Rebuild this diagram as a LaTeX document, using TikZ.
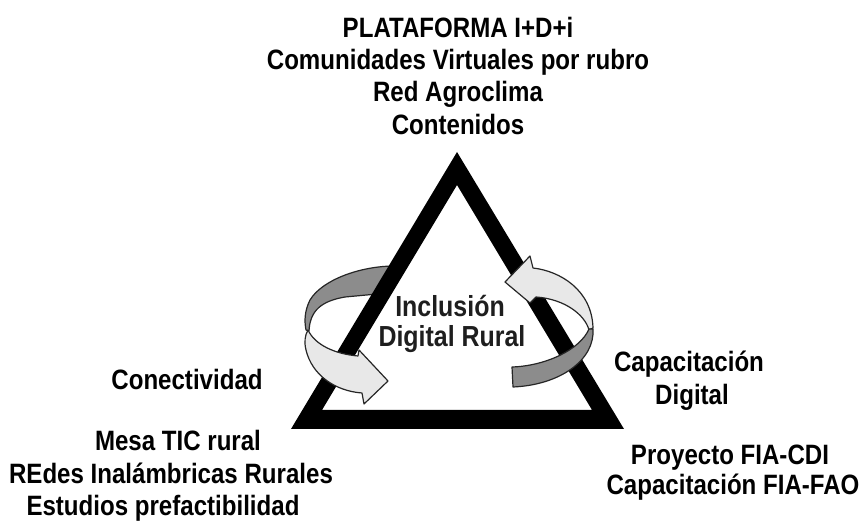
\documentclass[tikz,border=0pt]{standalone}
\usepackage{fontspec}
\setmainfont{Liberation Sans}[FakeStretch=0.86]
\definecolor{bandDark}{HTML}{8C8C8C}
\definecolor{bandLight}{HTML}{E8E8E8}
\definecolor{bandLine}{HTML}{262626}
\definecolor{innerText}{HTML}{1E1E1E}
\tikzset{
  lab/.style={font=\fontsize{28}{30}\selectfont\bfseries, anchor=base, inner sep=0pt, text=black},
  innerlab/.style={font=\fontsize{29}{31}\selectfont\bfseries, anchor=base, inner sep=0pt, text=innerText},
  darkband/.style={fill=bandDark, draw=bandLine, line width=1.2pt, line join=round},
  lightband/.style={fill=bandLight, draw=bandLine, line width=1.2pt, line join=round},
}
\begin{document}
\begin{tikzpicture}[x=1pt,y=-1pt]
\useasboundingbox (0,0) rectangle (863,521);
\fill[white] (0,0) rectangle (863,521);

% left ring, back part (behind the bar)
\path[darkband] (395,266) .. controls (360,266) and (322,280) .. (310,300)
  .. controls (305,310) and (304,320) .. (306,330) -- (309,331)
  .. controls (310,310) and (322,301) .. (345,297) -- (388,293) -- cycle;

% triangle
\fill[black, even odd rule] (457,152) -- (291,429) -- (624,429) -- cycle
  (457,185) -- (322,410) -- (592,410) -- cycle;

% left ring, front part with arrow head
\path[lightband] (308,330) .. controls (315,345) and (335,354) .. (358,356)
  -- (359,350) -- (388,381) -- (364,404) -- (362,393)
  .. controls (335,391) and (312,375) .. (306,350)
  .. controls (304,342) and (305,335) .. (308,330) -- cycle;

% right ring, arrow head part
\path[lightband] (505,282) -- (530,256) -- (533,268)
  .. controls (560,271) and (592,290) .. (593,328) -- (589,330)
  .. controls (585,315) and (565,299) .. (536,297) -- (530,303) -- cycle;

% right ring, dark part
\path[darkband] (593,329) .. controls (595,360) and (560,385) .. (513,387)
  -- (512,367) .. controls (545,366) and (580,350) .. (589,329) -- cycle;

% texts
\node[lab] (t1) at (458,38) {PLATAFORMA I+D+i};
\node[lab] (t2) at (458,70) {Comunidades Virtuales por rubro};
\node[lab] (t3) at (458,102) {Red Agroclima};
\node[lab] (t4) at (458,135) {Contenidos};

\node[innerlab] (inc1) at (450,317) {Inclusión};
\node[innerlab] (inc2) at (452,347) {Digital Rural};

\node[lab] (con) at (187,390) {Conectividad};
\node[lab] (m1) at (178,450) {Mesa TIC rural};
\node[lab] (m2) at (171,483) {REdes Inalámbricas Rurales};
\node[lab] (m3) at (163,515) {Estudios prefactibilidad};

\node[lab] (cap1) at (689,372) {Capacitación};
\node[lab] (cap2) at (692,405) {Digital};
\node[lab] (p1) at (730,465) {Proyecto FIA-CDI};
\node[lab] (p2) at (733,495) {Capacitación FIA-FAO};
\end{tikzpicture}
\end{document}
